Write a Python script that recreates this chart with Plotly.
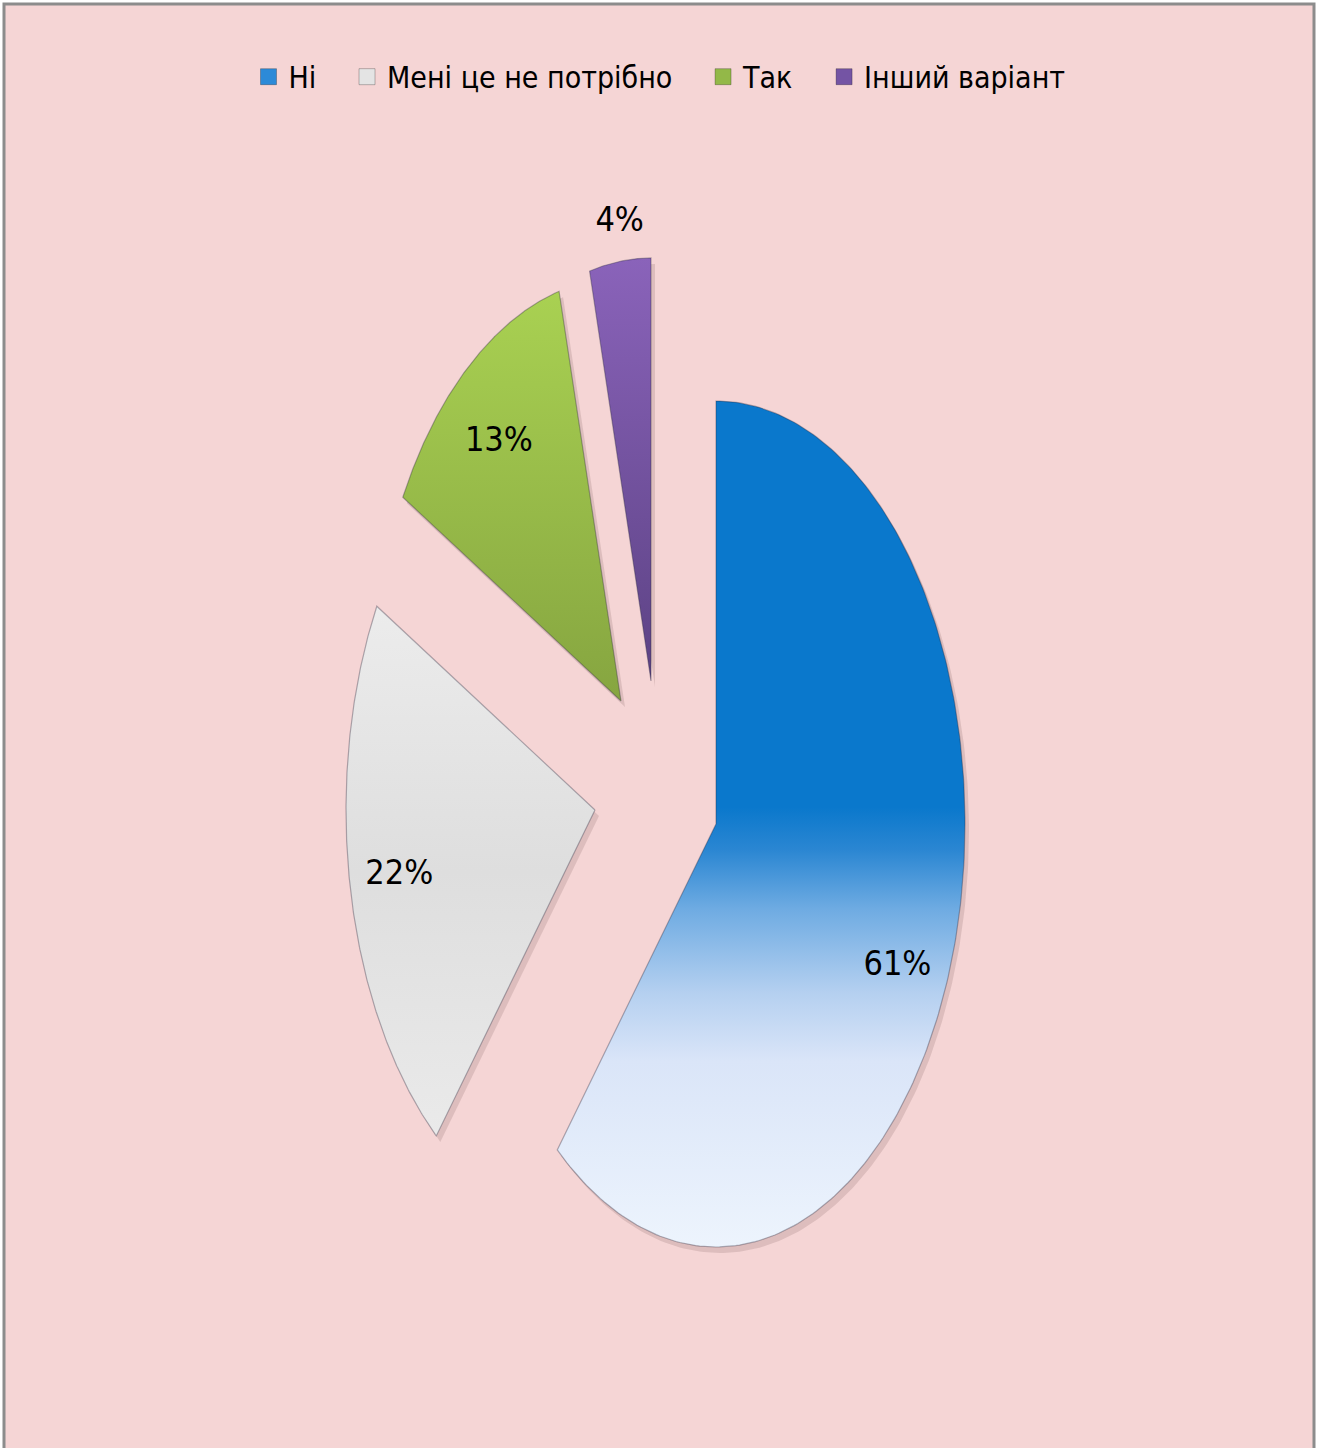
import numpy as np
import plotly.graph_objects as go

# ---------------- data ----------------
categories = ["Ні", "Мені це не потрібно", "Так", "Інший варіант"]
values = [61, 22, 13, 4]
value_labels = ["61%", "22%", "13%", "4%"]

# ---------------- style / layout ----------------
W, H = 1319, 1448
CX, CY, RX, RY = 716, 824, 249, 423          # pie centre and (elliptical) radii, px
explode = [(0, 0), (-121, -14), (-95, -123), (-65, -143)]   # slice offsets, px
label_r = [0.80, 0.80, 0.80, 1.10]
label_nudge = [(-6, 28), (0, 2), (0, 9), (3, 3)]           # px
gradients = [
    [[0, "#EDF4FD"], [0.22, "#DAE5F8"], [0.30, "#B5D0F0"], [0.40, "#6EABE2"],
     [0.47, "#2A86D2"], [0.52, "#0A78CC"], [1, "#0A78CC"]],
    [[0, "#EAEAEA"], [0.5, "#DEDEDE"], [1, "#ECECEC"]],
    [[0, "#86A540"], [1, "#A9D152"]],
    [[0, "#5C4284"], [1, "#8A63BA"]],
]
legend_colors = ["#2C8AD8", "#E4E4E4", "#93B848", "#7454A4"]
FONT = "DejaVu Sans Condensed, Liberation Sans Narrow, sans-serif"
PAD = "\u00a0" * 3

fig = go.Figure()

total = float(sum(values))
cum = np.concatenate([[0.0], np.cumsum(values)]) / total * 360.0


def pt(theta_deg, r, off):
    t = np.radians(theta_deg)
    return (CX + off[0] + r * RX * np.sin(t), CY + off[1] - r * RY * np.cos(t))


for i, cat in enumerate(categories):
    a0, a1 = cum[i], cum[i + 1]
    th = np.linspace(a0, a1, 240)
    off = explode[i]
    xs, ys = pt(th, 1.0, off)
    cx, cy = pt(0, 0, off)
    px = np.concatenate([[cx], xs, [cx]])
    py = np.concatenate([[cy], ys, [cy]])
    # soft shadow
    fig.add_trace(go.Scatter(x=px + 4, y=py + 6, fill="toself", mode="lines",
                             line=dict(width=0), fillcolor="rgba(60,30,30,0.13)",
                             hoverinfo="skip", showlegend=False))
    fig.add_trace(go.Scatter(
        x=px, y=py, fill="toself", mode="lines",
        line=dict(color="rgba(40,40,60,0.35)", width=1.2),
        fillgradient=dict(type="vertical", colorscale=gradients[i],
                          start=float(py.max()), stop=float(py.min())),
        name=cat, showlegend=False, hoverinfo="name"))

# value labels
lx, ly = [], []
for i in range(len(values)):
    mid = (cum[i] + cum[i + 1]) / 2
    x, y = pt(mid, label_r[i], explode[i])
    lx.append(x + label_nudge[i][0])
    ly.append(y + label_nudge[i][1])
fig.add_trace(go.Scatter(x=lx, y=ly, mode="text", text=value_labels,
                         textfont=dict(family=FONT, size=34, color="#000000"),
                         hoverinfo="skip", showlegend=False))

# legend entries
for k, (cat, col) in enumerate(zip(categories, legend_colors)):
    nm = cat + (PAD if k < len(categories) - 1 else "")
    fig.add_trace(go.Scatter(x=[None], y=[None], mode="markers", name=nm,
                             marker=dict(symbol="square", size=16, color=col,
                                         line=dict(color="rgba(0,0,0,0.25)", width=1))))

fig.update_layout(
    width=W, height=H,
    margin=dict(l=0, r=0, t=0, b=0),
    paper_bgcolor="#FFFFFF", plot_bgcolor="#FFFFFF",
    xaxis=dict(range=[0, W], visible=False, fixedrange=True),
    yaxis=dict(range=[H, 0], visible=False, fixedrange=True),
    showlegend=True,
    legend=dict(orientation="h", x=0.5, xanchor="center", y=0.965, yanchor="top",
                font=dict(family=FONT, size=30, color="#000000"),
                bgcolor="rgba(0,0,0,0)", itemclick=False, itemdoubleclick=False),
    shapes=[dict(type="rect", xref="x", yref="y", x0=4, x1=1314, y0=4, y1=1470,
                 fillcolor="#F5D5D5", line=dict(color="#8C8C8C", width=3),
                 layer="below")],
)

fig.write_html("out.html", config={"displayModeBar": False},
               post_script="document.body.style.margin='0';document.body.style.overflow='hidden';")
